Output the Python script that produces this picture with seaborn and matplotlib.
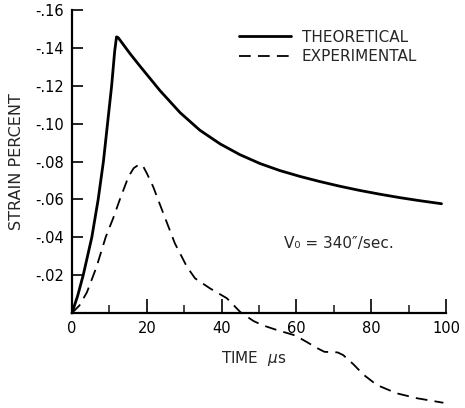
import matplotlib
matplotlib.use("Agg")
import matplotlib.pyplot as plt
import seaborn as sns
import pandas as pd
from matplotlib.ticker import FuncFormatter, MultipleLocator

# ---- data (strain percent, compression negative) ----
theo_time = [0, 1.5, 3.0, 5.3, 7.0, 8.4, 9.5, 10.6, 11.4, 11.9, 12.3, 12.8, 15.5, 18.2, 23.5,
             28.9, 34.2, 39.6, 44.9, 50.3, 55.6, 61.0, 66.3, 71.7, 77.0, 82.4, 87.7, 93.0, 98.8]
theo_strain = [0, -0.009, -0.020, -0.040, -0.060, -0.080, -0.100, -0.120, -0.138, -0.1458,
               -0.1455, -0.1442, -0.137, -0.1303, -0.1175, -0.1058, -0.0965, -0.0893, -0.0836,
               -0.0789, -0.0752, -0.0721, -0.0694, -0.0669, -0.0647, -0.0627, -0.0609,
               -0.0593, -0.0577]

exp_time = [0, 2, 4, 6.5, 9, 11, 12.8, 15.1, 16.5, 18.0, 19.0, 20.0, 21.7, 24.4, 27.5, 30.7,
            32.9, 36.9, 41.4, 45.0, 48.5, 51.0, 54.8, 59.6, 62.5, 65.5, 67.5, 71.0, 72.5,
            75.2, 77.9, 81.5, 86.8, 92.2, 99.3]
exp_strain = [0, -0.004, -0.011, -0.024, -0.040, -0.050, -0.060, -0.072, -0.0765, -0.0785,
              -0.0775, -0.0738, -0.0667, -0.0527, -0.0368, -0.0245, -0.0183, -0.013, -0.0078,
              -0.0005, 0.0042, 0.0065, 0.009, 0.0118, 0.0150, 0.0185, 0.0205, 0.0208, 0.0222,
              0.0270, 0.0325, 0.0380, 0.0424, 0.045, 0.0474]

x_ticks = [0, 20, 40, 60, 80, 100]
y_ticks = [-0.02, -0.04, -0.06, -0.08, -0.10, -0.12, -0.14, -0.16]

theo = pd.DataFrame({"time": theo_time, "strain": theo_strain})
expd = pd.DataFrame({"time": exp_time, "strain": exp_strain})

sns.set_style("ticks")
plt.rcParams["font.family"] = ["DejaVu Sans"]
plt.rcParams["mathtext.fontset"] = "dejavusans"

fig = plt.figure(figsize=(4.65, 4.08), dpi=100)
ax = fig.add_axes([72 / 465, 1 - 313 / 408, (446 - 72) / 465, (313 - 10) / 408])

sns.lineplot(data=theo, x="time", y="strain", ax=ax, color="black", lw=2.0,
             label="THEORETICAL", sort=False, estimator=None)
sns.lineplot(data=expd, x="time", y="strain", ax=ax, color="black", lw=1.3,
             label="EXPERIMENTAL", sort=False, estimator=None)
lines = ax.get_lines()
lines[1].set_dashes([6.5, 4.0])
for ln in lines:
    ln.set_clip_on(False)
    ln.set_solid_joinstyle("round")
    ln.set_dash_joinstyle("round")

ax.set_xlim(0, 100)
ax.set_ylim(0, -0.16)
ax.set_xticks(x_ticks)
ax.xaxis.set_minor_locator(MultipleLocator(10))
ax.set_yticks(y_ticks)
ax.yaxis.set_major_formatter(FuncFormatter(lambda v, p: ("-" + f"{abs(v):.2f}"[1:])))
ax.xaxis.set_major_formatter(FuncFormatter(lambda v, p: f"{int(round(v))}"))

for s in ["top", "right"]:
    ax.spines[s].set_visible(False)
for s in ["left", "bottom"]:
    ax.spines[s].set_linewidth(1.6)
    ax.spines[s].set_color("black")

ax.tick_params(axis="both", which="major", direction="in", width=1.2, labelsize=10.5,
               colors="black", pad=6)
ax.tick_params(axis="x", which="major", length=10)
ax.tick_params(axis="y", which="major", length=8)
ax.tick_params(axis="x", which="minor", direction="in", length=6, width=1.2)

ax.set_xlabel("")
ax.set_ylabel("STRAIN PERCENT", fontsize=11.5, labelpad=8)
ax.text(48.5, 0.0238, r"TIME  $\mu$s", fontsize=11, ha="center", va="center")
ax.text(0.714, 0.231, "V\u2080 = 340\u2033/sec.", transform=ax.transAxes, fontsize=11,
        ha="center", va="center")

leg = ax.legend(loc="upper left", bbox_to_anchor=(0.43, 0.955), frameon=False,
                fontsize=11, handlelength=3.4, handletextpad=0.7, labelspacing=0.3,
                borderaxespad=0)

fig.savefig("out.png", dpi=100)
